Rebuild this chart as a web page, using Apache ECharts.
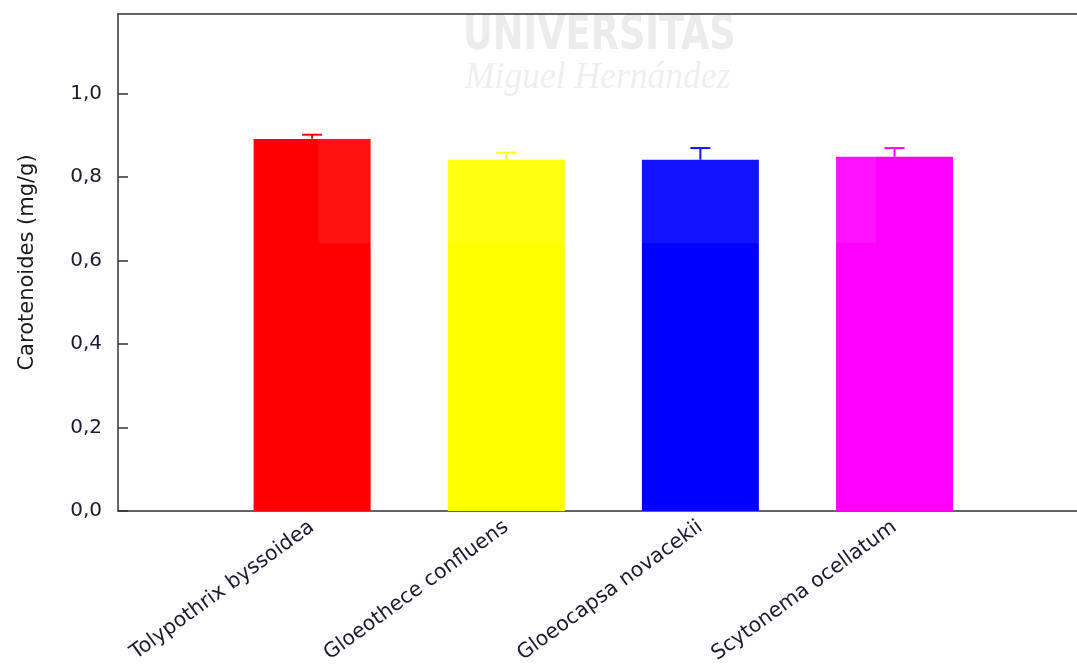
<!DOCTYPE html>
<html>
<head>
<meta charset="utf-8">
<script src="https://cdn.jsdelivr.net/npm/echarts@6/dist/echarts.min.js"></script>
<style>
html,body{margin:0;padding:0;background:#fff;}
#chart{width:1077px;height:664px;}
</style>
</head>
<body>
<div id="chart"></div>
<script>
const categories = ['Tolypothrix byssoidea', 'Gloeothece confluens', 'Gloeocapsa novacekii', 'Scytonema ocellatum'];
const values = [0.891, 0.841, 0.841, 0.848];
const errors = [0.010, 0.017, 0.028, 0.021];
const colors = ['#ff0000', '#ffff00', '#0000ff', '#ff00ff'];
const yTicks = [0, 0.2, 0.4, 0.6, 0.8, 1.0];

const chart = echarts.init(document.getElementById('chart'));
const labelColor = '#1a1a30';
const fam = 'DejaVu Sans';

const barData = values.map((v, i) => ({ value: [i + 1, v], itemStyle: { color: colors[i] } }));
const errData = values.map((v, i) => [i + 1, v, v + errors[i], i]);

chart.setOption({
  animation: false,
  backgroundColor: '#ffffff',
  grid: { left: 118, top: 14, right: 0, bottom: 153, containLabel: false, outerBoundsMode: 'none' },
  xAxis: [{
    type: 'value', min: 0, max: 4.94, interval: 1,
    axisLine: { show: true, lineStyle: { color: '#333', width: 1.5 } },
    axisTick: { show: false },
    splitLine: { show: false },
    axisLabel: {
      rotate: 36, margin: 14, fontFamily: fam, fontSize: 20.5, color: labelColor,
      formatter: v => (Number.isInteger(v) && v >= 1 && v <= categories.length) ? categories[v - 1] : ''
    }
  }, {
    type: 'value', min: 0, max: 4.94, position: 'top',
    axisLine: { show: true, onZero: false, lineStyle: { color: '#333', width: 1.5 } },
    axisTick: { show: false }, axisLabel: { show: false }, splitLine: { show: false }
  }],
  yAxis: {
    type: 'value', min: 0, max: 1.19, interval: 0.2,
    name: 'Carotenoides (mg/g)', nameLocation: 'middle', nameGap: 80,
    nameTextStyle: { fontFamily: fam, fontSize: 21, color: '#1a1a1a' },
    axisLine: { show: true, lineStyle: { color: '#333', width: 1.5 } },
    axisTick: { show: true, inside: true, length: 10, lineStyle: { color: '#333', width: 1.5 },
      customValues: yTicks },
    splitLine: { show: false },
    axisLabel: {
      margin: 16, fontFamily: fam, fontSize: 20, color: labelColor,
      customValues: yTicks,
      formatter: v => v.toFixed(1).replace('.', ',')
    }
  },
  graphic: [
    { type: 'text', left: 463, top: 13, z: 0, silent: true, scaleX: 0.85,
      style: { text: 'UNIVERSITAS', fill: '#ebebeb', font: 'bold 48px "Liberation Sans Narrow", "DejaVu Sans Condensed", sans-serif' } },
    { type: 'text', left: 465, top: 60, z: 0, silent: true, scaleX: 0.96,
      style: { text: 'Miguel Hernández', fill: '#eeeeee', font: 'italic 37px "Liberation Serif", serif' } },
    { type: 'rect', shape: { x: 318, y: 15, width: 558, height: 228 }, z: 100, silent: true,
      style: { fill: 'rgba(255,255,255,0.07)' } }
  ],
  series: [{
    type: 'bar', barWidth: 117, data: barData, z: 2
  }, {
    type: 'custom', z: 3, data: errData,
    encode: { x: 0, y: [1, 2] },
    renderItem: (params, api) => {
      const x = api.value(0);
      const p0 = api.coord([x, api.value(1)]);
      const p1 = api.coord([x, api.value(2)]);
      const c = colors[api.value(3)];
      const hw = 10;
      return {
        type: 'group',
        children: [
          { type: 'line', shape: { x1: p0[0], y1: p0[1], x2: p1[0], y2: p1[1] }, style: { stroke: c, lineWidth: 2 } },
          { type: 'line', shape: { x1: p1[0] - hw, y1: p1[1], x2: p1[0] + hw, y2: p1[1] }, style: { stroke: c, lineWidth: 2 } }
        ]
      };
    }
  }]
});
</script>
</body>
</html>
